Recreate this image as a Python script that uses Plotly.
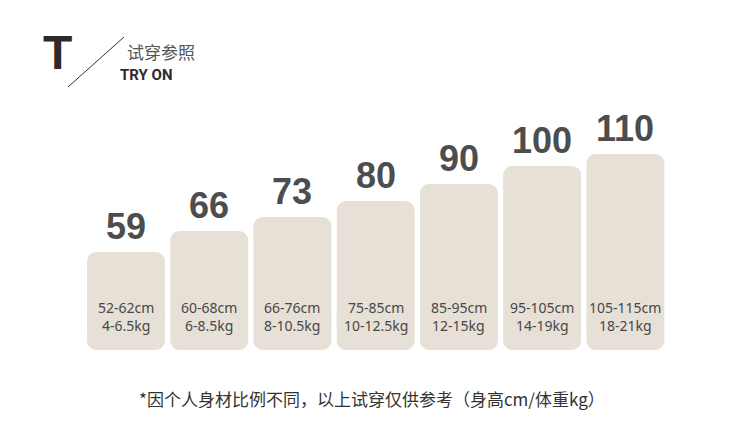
import plotly.graph_objects as go

sizes = ["59", "66", "73", "80", "90", "100", "110"]
height_range = ["52-62cm", "60-68cm", "66-76cm", "75-85cm", "85-95cm", "95-105cm", "105-115cm"]
weight_range = ["4-6.5kg", "6-8.5kg", "8-10.5kg", "10-12.5kg", "12-15kg", "14-19kg", "18-21kg"]
bar_height = [98, 119, 133, 149, 166, 184, 196]

# the page body has an 8px margin, so the figure is a bit smaller and positions are offset
OFF = 8
W, H = 750 - OFF, 428 - OFF
bar_color = "#E7E0D6"
num_color = "#4D4D4D"
txt_color = "#474747"


def px(v):
    return (v - OFF) / W


def py(v):
    return 1 - (v - OFF) / H


x = list(range(len(sizes)))

fig = go.Figure()

# bars are drawn in two overlapping parts so both the top and bottom corners get rounded
fig.add_trace(go.Bar(x=x, y=[h - 20 for h in bar_height], base=[20] * len(x),
                     marker=dict(color=bar_color, line=dict(width=0)), hoverinfo="skip"))
fig.add_trace(go.Bar(x=x, y=[-40] * len(x), base=[40] * len(x),
                     marker=dict(color=bar_color, line=dict(width=0)), hoverinfo="skip"))

# size numbers above the bars, ranges inside
for i in x:
    fig.add_annotation(x=i, y=bar_height[i], text="<b>" + sizes[i] + "</b>", showarrow=False,
                       yanchor="bottom", yshift=3,
                       font=dict(family="Liberation Sans, Arial", size=36, color=num_color))
    fig.add_annotation(x=i, y=43, text=height_range[i], showarrow=False, yanchor="middle",
                       font=dict(family="Noto Sans", size=14, color=txt_color))
    fig.add_annotation(x=i, y=25, text=weight_range[i], showarrow=False, yanchor="middle",
                       font=dict(family="Noto Sans", size=14, color=txt_color))

# header
fig.add_annotation(xref="paper", yref="paper", x=px(57), y=py(53), text="<b>T</b>",
                   showarrow=False, xanchor="center", yanchor="middle",
                   font=dict(family="Liberation Sans, Arial", size=48, color="#2b2b2b"))
fig.add_shape(type="line", xref="paper", yref="paper",
              x0=px(68), y0=py(87), x1=px(124), y1=py(37),
              line=dict(color="#333333", width=1))
fig.add_annotation(xref="paper", yref="paper", x=px(125), y=py(52), text="试穿参照",
                   showarrow=False, xanchor="left", yanchor="middle",
                   font=dict(family="Noto Sans CJK SC", size=17, color="#555555"))
fig.add_annotation(xref="paper", yref="paper", x=px(118), y=py(75), text="<b>TRY ON</b>",
                   showarrow=False, xanchor="left", yanchor="middle",
                   font=dict(family="Roboto, Liberation Sans", size=15, color="#2b2b2b"))

# footnote
fig.add_annotation(xref="paper", yref="paper", x=px(372), y=py(398),
                   text="*因个人身材比例不同，以上试穿仅供参考（身高cm/体重kg）",
                   showarrow=False, xanchor="center", yanchor="middle",
                   font=dict(family="Noto Sans CJK SC", size=17, color="#333333"))

fig.update_layout(
    width=W, height=H,
    margin=dict(l=0, r=0, t=0, b=0),
    paper_bgcolor="white", plot_bgcolor="white",
    barmode="overlay", bargap=0.064, barcornerradius=9,
    showlegend=False,
    xaxis=dict(range=[-0.5, 6.5], domain=[px(84.4), px(667)], visible=False, fixedrange=True),
    yaxis=dict(range=[-78, 342], domain=[0, 1], visible=False, fixedrange=True),
)

fig.write_html("out.html")
